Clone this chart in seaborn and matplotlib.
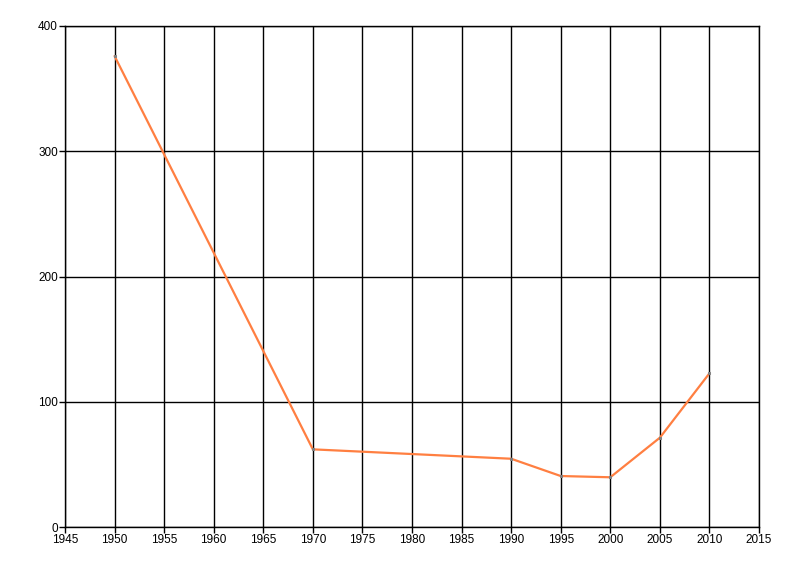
import matplotlib
matplotlib.use('Agg')
import matplotlib.pyplot as plt
import seaborn as sns
import pandas as pd

# 数据
years = [1950, 1970, 1990, 1995, 2000, 2005, 2010]
values = [376, 62, 54.5, 40.7, 39.7, 71.3, 122.7]

x_ticks = list(range(1945, 2016, 5))
y_ticks = [0, 100, 200, 300, 400]

sns.set_style('white')
plt.rcParams['font.family'] = ['Liberation Sans', 'DejaVu Sans']

df = pd.DataFrame({'year': years, 'value': values})

fig = plt.figure(figsize=(8, 5.76), dpi=100)
ax = fig.add_axes([65 / 800, 49 / 576, 694 / 800, 501 / 576])

sns.lineplot(data=df, x='year', y='value', ax=ax, color='#ff7f41', linewidth=1.6,
             marker='s', markersize=2, markerfacecolor='#808080', markeredgecolor='#808080',
             zorder=3)

ax.set_xlim(1945, 2015)
ax.set_ylim(0, 400)
ax.set_xticks(x_ticks)
ax.set_yticks(y_ticks)
ax.set_xlabel('')
ax.set_ylabel('')

# 网格线 + 四周边框都用黑色
ax.grid(True, color='black', linewidth=1.0)
ax.set_axisbelow(True)
for side in ['left', 'bottom', 'top', 'right']:
    ax.spines[side].set_visible(True)
    ax.spines[side].set_color('black')
    ax.spines[side].set_linewidth(1.0)

ax.tick_params(axis='both', which='both', direction='out', length=4, width=1,
               color='black', labelsize=8.5, labelcolor='black', pad=1,
               bottom=True, left=True, top=False, right=False)

fig.savefig('out.png', dpi=100)
